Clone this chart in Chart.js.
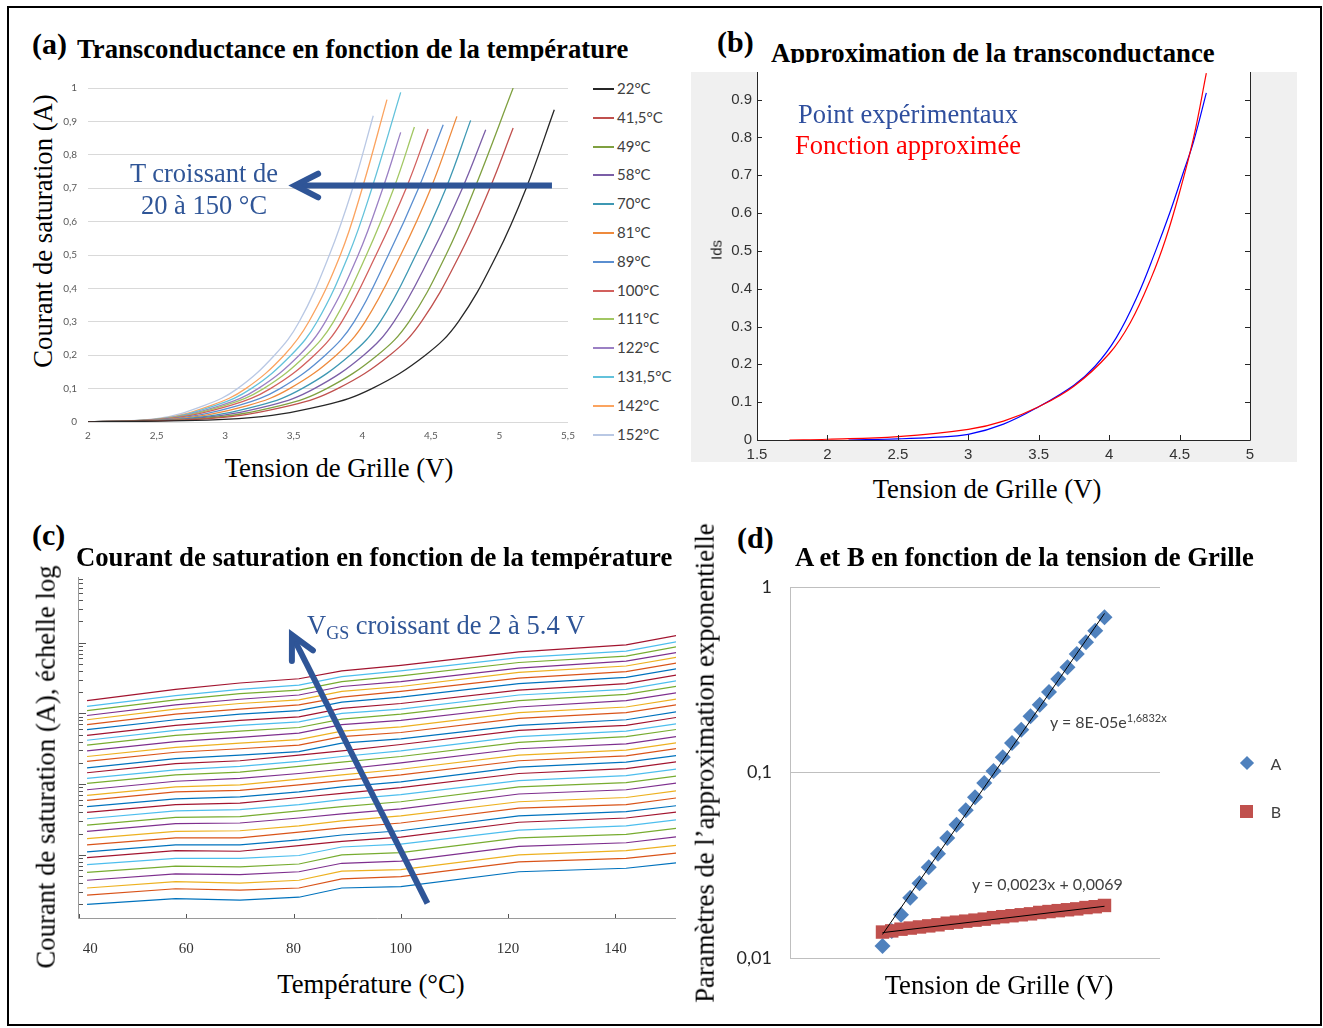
<!DOCTYPE html>
<html>
<head>
<meta charset="utf-8">
<script src="https://cdn.jsdelivr.net/npm/chart.js@4.4.1/dist/chart.umd.min.js"></script>
<style>
body { margin: 0; background: #fff; }
#fig { position: relative; width: 1323px; height: 1028px; overflow: hidden; font-family: "Liberation Serif", "Times New Roman", serif; }
.frame { position: absolute; left: 7px; top: 6px; width: 1315px; height: 1020px; border: 2px solid #000; box-sizing: border-box; }
canvas { position: absolute; }
.t { position: absolute; white-space: nowrap; line-height: 1; }
.c { transform: translate(-50%, -50%); }
.v { transform: translate(-50%, -50%) rotate(-90deg); }
.lab { font-weight: bold; font-size: 30px; color: #000; }
.ttl { font-weight: bold; font-size: 26.7px; color: #000; }
.clip { position: absolute; overflow: hidden; white-space: nowrap; line-height: 1; }
.ax { font-size: 26.7px; color: #000; }
.note { font-size: 26.5px; color: #2F5597; }
.cal { font-family: Lato, "Open Sans", sans-serif; color: #404040; }
</style>
</head>
<body>
<div id="fig">
  <div class="frame"></div>

  <canvas id="chartA" width="520" height="380" style="left:60px;top:70px"></canvas>
  <canvas id="chartB" width="606" height="390" style="left:691px;top:72px;background:#f0f0f0"></canvas>
  <canvas id="chartC" width="630" height="400" style="left:60px;top:560px"></canvas>
  <canvas id="chartD" width="590" height="420" style="left:730px;top:570px"></canvas>

  <!-- (a) -->
  <div class="t lab" style="left:32px;top:29px">(a)</div>
  <div class="clip ttl" style="left:77px;top:36px;height:25px">Transconductance en fonction de la température</div>
  <div class="t ax v" style="left:43px;top:231px">Courant de saturation (A)</div>
  <div class="t ax c" style="left:339px;top:468px">Tension de Grille (V)</div>
  <div class="t note c" style="left:204px;top:173px">T croissant de</div>
  <div class="t note c" style="left:204px;top:205px">20 à 150 °C</div>
  <div id="legA"></div>

  <!-- (b) -->
  <div class="t lab" style="left:717px;top:27px">(b)</div>
  <div class="clip ttl" style="left:771px;top:40px;height:23px">Approximation de la transconductance</div>
  <div class="t c" style="left:716px;top:250px;font-family:'Liberation Sans',Arial,sans-serif;font-size:15px;color:#262626;transform:translate(-50%,-50%) rotate(-90deg)">Ids</div>
  <div class="t c" style="left:908px;top:114px;font-size:26.5px;color:#2F4F9E">Point expérimentaux</div>
  <div class="t c" style="left:908px;top:145px;font-size:26.5px;color:#FF0000">Fonction approximée</div>
  <div class="t ax c" style="left:987px;top:489px">Tension de Grille (V)</div>

  <!-- (c) -->
  <div class="t lab" style="left:32px;top:520px">(c)</div>
  <div class="clip ttl" style="left:76px;top:544px;height:25px">Courant de saturation en fonction de la température</div>
  <div class="t ax v" style="left:46px;top:767px">Courant de saturation (A), échelle log</div>
  <div class="t ax c" style="left:371px;top:984px">Température (°C)</div>
  <div class="t note" style="left:307px;top:612px">V<span style="font-size:18px;position:relative;top:5px">GS</span> croissant de 2 à 5.4 V</div>

  <!-- (d) -->
  <div class="t lab" style="left:737px;top:523px">(d)</div>
  <div class="t ttl" style="left:795px;top:544px">A et B en fonction de la tension de Grille</div>
  <div class="t ax v" style="left:705px;top:763px">Paramètres de l’approximation exponentielle</div>
  <div class="t ax c" style="left:999px;top:985px">Tension de Grille (V)</div>
  <div class="t cal" style="left:1050px;top:714px;font-size:16px">y = 8E-05e<span style="font-size:11px;position:relative;top:-6px">1,6832x</span></div>
  <div class="t cal" style="left:972px;top:876px;font-size:16px">y = 0,0023x + 0,0069</div>
  <div class="t" style="left:1242px;top:758px;width:10px;height:10px;background:#4F81BD;transform:rotate(45deg)"></div>
  <div class="t cal c" style="left:1276px;top:764px;font-size:16px">A</div>
  <div class="t" style="left:1240px;top:805px;width:13px;height:13px;background:#C0504D"></div>
  <div class="t cal c" style="left:1276px;top:812px;font-size:16px">B</div>
</div>

<script>
// ---------- (a) Ids vs Vgs for each temperature ----------
const tempsA = ['22°C', '41,5°C', '49°C', '58°C', '70°C', '81°C', '89°C', '100°C', '111°C', '122°C', '131,5°C', '142°C', '152°C'];
const colorsA = ['#262626', '#C0504D', '#7FA040', '#7B5EA7', '#3E98B3', '#EE8A3C', '#5A8ED0', '#D2605D', '#A2C763', '#9B80C4', '#63C2DB', '#FBA460', '#B9C8E4'];
// gate voltage where each curve reaches the currents of idsA
const vgsA = [
  [2.0, 3.10, 3.72, 4.07, 4.46, 4.70, 4.98, 5.195, 5.40],
  [2.0, 2.88, 3.48, 3.82, 4.20, 4.43, 4.71, 4.93, 5.10],
  [2.0, 2.83, 3.41, 3.74, 4.11, 4.34, 4.61, 4.82, 5.10],
  [2.0, 2.77, 3.33, 3.65, 4.01, 4.23, 4.50, 4.73, 4.90],
  [2.0, 2.72, 3.25, 3.56, 3.91, 4.13, 4.39, 4.61, 4.79],
  [2.0, 2.66, 3.17, 3.47, 3.81, 4.02, 4.28, 4.50, 4.69],
  [2.0, 2.62, 3.10, 3.40, 3.73, 3.94, 4.19, 4.41, 4.59],
  [2.0, 2.58, 3.04, 3.33, 3.65, 3.85, 4.10, 4.32, 4.48],
  [2.0, 2.56, 3.00, 3.28, 3.59, 3.79, 4.03, 4.23, 4.38],
  [2.0, 2.55, 2.97, 3.24, 3.54, 3.73, 3.97, 4.15, 4.28],
  [2.0, 2.54, 2.93, 3.19, 3.48, 3.67, 3.90, 4.07, 4.28],
  [2.0, 2.53, 2.90, 3.15, 3.43, 3.61, 3.84, 4.00, 4.18],
  [2.0, 2.50, 2.85, 3.09, 3.36, 3.54, 3.76, 3.93, 4.08]
];
const idsA = [
  [0, 0.01, 0.05, 0.1, 0.2, 0.3, 0.5, 0.7, 0.935],
  [0, 0.01, 0.05, 0.1, 0.2, 0.3, 0.5, 0.7, 0.88],
  [0, 0.01, 0.05, 0.1, 0.2, 0.3, 0.5, 0.7, 1.0],
  [0, 0.01, 0.05, 0.1, 0.2, 0.3, 0.5, 0.7, 0.875],
  [0, 0.01, 0.05, 0.1, 0.2, 0.3, 0.5, 0.7, 0.903],
  [0, 0.01, 0.05, 0.1, 0.2, 0.3, 0.5, 0.7, 0.915],
  [0, 0.01, 0.05, 0.1, 0.2, 0.3, 0.5, 0.7, 0.89],
  [0, 0.01, 0.05, 0.1, 0.2, 0.3, 0.5, 0.7, 0.877],
  [0, 0.01, 0.05, 0.1, 0.2, 0.3, 0.5, 0.7, 0.883],
  [0, 0.01, 0.05, 0.1, 0.2, 0.3, 0.5, 0.7, 0.867],
  [0, 0.01, 0.05, 0.1, 0.2, 0.3, 0.5, 0.7, 0.987],
  [0, 0.01, 0.05, 0.1, 0.2, 0.3, 0.5, 0.7, 0.965],
  [0, 0.01, 0.05, 0.1, 0.2, 0.3, 0.5, 0.7, 0.917]
];

// ---------- (b) measured vs fitted ----------
const vgsExpB = [2.15, 2.5, 2.75, 3.0, 3.25, 3.5, 3.75, 3.9, 4.05, 4.2, 4.33, 4.43, 4.52, 4.6, 4.69];
const idsExpB = [0, 0.003, 0.007, 0.015, 0.042, 0.088, 0.145, 0.195, 0.27, 0.38, 0.5, 0.6, 0.7, 0.79, 0.918];
const vgsFitB = [1.73, 2.0, 2.5, 3.0, 3.25, 3.5, 3.75, 4.0, 4.15, 4.3, 4.4, 4.5, 4.6, 4.69];
const idsFitB = [0, 0.002, 0.009, 0.028, 0.05, 0.088, 0.142, 0.228, 0.31, 0.43, 0.53, 0.655, 0.8, 0.97];

// ---------- (c) log10(Ids) vs temperature, one row per Vgs ----------
const tempsC = [41.5, 58, 70, 81, 89, 100, 122, 142, 152];
const vgsC = [2.0, 2.1, 2.2, 2.3, 2.4, 2.5, 2.6, 2.7, 2.8, 2.9, 3.0, 3.1, 3.2, 3.3, 3.4, 3.5, 3.6, 3.7, 3.8, 3.9,
              4.0, 4.1, 4.2, 4.3, 4.4, 4.5, 4.6, 4.7, 4.8, 4.9, 5.0, 5.1, 5.2, 5.3, 5.4];
const logIdsC = [
  [-3.70, -3.62, -3.64, -3.60, -3.47, -3.45, -3.24, -3.19, -3.11],
  [-3.57, -3.48, -3.50, -3.47, -3.34, -3.31, -3.10, -3.05, -2.97],
  [-3.47, -3.38, -3.40, -3.36, -3.23, -3.21, -3.00, -2.94, -2.86],
  [-3.36, -3.27, -3.28, -3.24, -3.12, -3.09, -2.88, -2.83, -2.74],
  [-3.25, -3.16, -3.17, -3.13, -3.00, -2.97, -2.76, -2.71, -2.62],
  [-3.14, -3.05, -3.05, -3.01, -2.89, -2.85, -2.65, -2.59, -2.50],
  [-3.04, -2.94, -2.95, -2.87, -2.81, -2.75, -2.54, -2.48, -2.39],
  [-2.96, -2.86, -2.86, -2.79, -2.72, -2.66, -2.45, -2.39, -2.30],
  [-2.86, -2.76, -2.76, -2.68, -2.62, -2.55, -2.34, -2.29, -2.19],
  [-2.77, -2.67, -2.66, -2.59, -2.52, -2.45, -2.25, -2.19, -2.09],
  [-2.67, -2.56, -2.55, -2.48, -2.42, -2.35, -2.14, -2.08, -1.98],
  [-2.58, -2.47, -2.46, -2.38, -2.32, -2.25, -2.04, -1.98, -1.88],
  [-2.49, -2.38, -2.36, -2.29, -2.22, -2.15, -1.95, -1.88, -1.78],
  [-2.40, -2.29, -2.27, -2.19, -2.13, -2.05, -1.85, -1.78, -1.68],
  [-2.32, -2.21, -2.18, -2.11, -2.04, -1.97, -1.76, -1.69, -1.59],
  [-2.23, -2.11, -2.09, -2.01, -1.95, -1.87, -1.67, -1.60, -1.49],
  [-2.16, -2.04, -2.01, -1.93, -1.87, -1.79, -1.59, -1.52, -1.41],
  [-2.08, -1.96, -1.92, -1.85, -1.79, -1.70, -1.50, -1.43, -1.32],
  [-1.99, -1.87, -1.83, -1.75, -1.69, -1.61, -1.41, -1.33, -1.22],
  [-1.92, -1.80, -1.75, -1.68, -1.61, -1.53, -1.33, -1.25, -1.14],
  [-1.84, -1.71, -1.67, -1.59, -1.53, -1.44, -1.24, -1.17, -1.05],
  [-1.77, -1.64, -1.59, -1.54, -1.42, -1.36, -1.17, -1.09, -0.97],
  [-1.68, -1.55, -1.50, -1.45, -1.33, -1.27, -1.07, -0.99, -0.87],
  [-1.61, -1.48, -1.42, -1.37, -1.25, -1.19, -0.99, -0.91, -0.79],
  [-1.53, -1.40, -1.34, -1.28, -1.16, -1.10, -0.91, -0.82, -0.70],
  [-1.45, -1.31, -1.25, -1.20, -1.08, -1.01, -0.82, -0.73, -0.61],
  [-1.38, -1.24, -1.17, -1.12, -1.00, -0.94, -0.74, -0.66, -0.53],
  [-1.31, -1.17, -1.10, -1.05, -0.93, -0.86, -0.67, -0.58, -0.45],
  [-1.23, -1.09, -1.01, -0.96, -0.84, -0.77, -0.58, -0.49, -0.36],
  [-1.16, -1.01, -0.94, -0.88, -0.77, -0.69, -0.50, -0.41, -0.28],
  [-1.09, -0.94, -0.86, -0.81, -0.69, -0.62, -0.42, -0.33, -0.20],
  [-1.03, -0.88, -0.80, -0.74, -0.62, -0.55, -0.36, -0.26, -0.13],
  [-0.96, -0.81, -0.72, -0.67, -0.55, -0.47, -0.28, -0.19, -0.05],
  [-0.90, -0.75, -0.66, -0.60, -0.48, -0.40, -0.21, -0.12, 0.02],
  [-0.82, -0.66, -0.57, -0.51, -0.40, -0.32, -0.13, -0.03, 0.11]
];
const colorsC = ['#0072BD', '#D95319', '#EDB120', '#7E2F8E', '#77AC30', '#4DBEEE', '#A2142F'];

// ---------- (d) A and B parameters ----------
const vgsD = [3.0, 3.1, 3.2, 3.3, 3.4, 3.5, 3.6, 3.7, 3.8, 3.9, 4.0, 4.1, 4.2, 4.3, 4.4, 4.5, 4.6, 4.7, 4.8, 4.9, 5.0, 5.1, 5.2, 5.3, 5.4];
const paramA = [0.0116, 0.0140, 0.0171, 0.0211, 0.0253, 0.0308, 0.0365, 0.0443, 0.0523, 0.0625, 0.0735, 0.0878, 0.102,
                0.121, 0.144, 0.170, 0.201, 0.232, 0.272, 0.319, 0.369, 0.435, 0.503, 0.581, 0.686];
const paramB = [0.0138, 0.0140, 0.0143, 0.0145, 0.0147, 0.0149, 0.0151, 0.0154, 0.0156, 0.0158, 0.0160, 0.0162, 0.0165,
                0.0167, 0.0169, 0.0171, 0.0173, 0.0176, 0.0178, 0.0180, 0.0182, 0.0184, 0.0187, 0.0189, 0.0192];
const trendX = [3.0, 5.4];
const trendA = [0.0134, 0.72];
const trendB = [0.0137, 0.019];

const comma = v => String(+v.toFixed(2)).replace('.', ',');

// fixed axis size, and no extra label padding pushed into the layout
const fixSize = (w, h) => s => {
  if (w !== null) s.width = w;
  if (h !== null) s.height = h;
  s.paddingTop = 0; s.paddingBottom = 0; s.paddingLeft = 0; s.paddingRight = 0;
};

// thick arrow with an open head, placed in data coordinates
const arrowPlugin = {
  id: 'arrow',
  afterDatasetsDraw(chart, args, opts) {
    if (!opts.from) return;
    const sx = chart.scales.x, sy = chart.scales.y;
    const x0 = sx.getPixelForValue(opts.from[0]), y0 = sy.getPixelForValue(opts.from[1]);
    const x1 = sx.getPixelForValue(opts.to[0]), y1 = sy.getPixelForValue(opts.to[1]);
    const a = Math.atan2(y1 - y0, x1 - x0);
    const ctx = chart.ctx;
    ctx.save();
    ctx.strokeStyle = opts.color;
    ctx.lineWidth = opts.width;
    ctx.beginPath();
    ctx.moveTo(x0, y0);
    ctx.lineTo(x1 - Math.cos(a) * 2, y1 - Math.sin(a) * 2);
    ctx.stroke();
    ctx.lineCap = 'round';
    ctx.lineJoin = 'miter';
    ctx.beginPath();
    ctx.moveTo(x1 - opts.head * Math.cos(a - 0.47), y1 - opts.head * Math.sin(a - 0.47));
    ctx.lineTo(x1, y1);
    ctx.lineTo(x1 - opts.head * Math.cos(a + 0.47), y1 - opts.head * Math.sin(a + 0.47));
    ctx.stroke();
    ctx.restore();
  }
};

// MATLAB style box with inward ticks
const boxPlugin = {
  id: 'box',
  beforeDraw(chart) {
    const a = chart.chartArea;
    chart.ctx.fillStyle = '#fff';
    chart.ctx.fillRect(a.left, a.top, a.right - a.left, a.bottom - a.top);
  },
  afterDraw(chart) {
    const { ctx, chartArea: a, scales } = chart;
    ctx.save();
    ctx.strokeStyle = '#262626';
    ctx.lineWidth = 1;
    ctx.beginPath();
    ctx.moveTo(a.left + 0.5, a.top);
    ctx.lineTo(a.left + 0.5, a.bottom + 0.5);
    ctx.lineTo(a.right + 0.5, a.bottom + 0.5);
    ctx.lineTo(a.right + 0.5, a.top);
    scales.y.ticks.forEach(t => {
      const p = Math.round(scales.y.getPixelForValue(t.value)) + 0.5;
      ctx.moveTo(a.left, p); ctx.lineTo(a.left + 5, p);
      ctx.moveTo(a.right, p); ctx.lineTo(a.right - 5, p);
    });
    scales.x.ticks.forEach(t => {
      const p = Math.round(scales.x.getPixelForValue(t.value)) + 0.5;
      ctx.moveTo(p, a.bottom); ctx.lineTo(p, a.bottom - 5);
    });
    ctx.stroke();
    ctx.restore();
  }
};

// log axis with inner minor ticks, no labels
const logAxisPlugin = {
  id: 'logAxis',
  afterDraw(chart) {
    const { ctx, chartArea: a, scales: { x, y } } = chart;
    ctx.save();
    ctx.strokeStyle = '#9a9a9a';
    ctx.lineWidth = 1;
    ctx.beginPath();
    ctx.moveTo(a.left - 0.5, a.top);
    ctx.lineTo(a.left - 0.5, a.bottom + 0.5);
    ctx.lineTo(a.right, a.bottom + 0.5);
    ctx.stroke();
    ctx.strokeStyle = '#555';
    ctx.beginPath();
    for (let d = -4; d <= 0; d++) {
      for (let m = 1; m <= 9; m++) {
        const v = m * Math.pow(10, d);
        if (v < y.min || v > y.max) continue;
        const p = Math.round(y.getPixelForValue(v)) + 0.5;
        ctx.moveTo(a.left, p);
        ctx.lineTo(a.left + (m === 1 ? 7 : 4), p);
      }
    }
    x.ticks.forEach(t => {
      const p = Math.round(x.getPixelForValue(t.value)) + 0.5;
      ctx.moveTo(p, a.bottom);
      ctx.lineTo(p, a.bottom - 4);
    });
    ctx.stroke();
    ctx.restore();
  }
};

// ---- chart (a)
new Chart(document.getElementById('chartA'), {
  type: 'line',
  data: {
    datasets: tempsA.map((t, k) => ({
      label: t,
      data: vgsA[k].map((v, j) => ({ x: v, y: idsA[k][j] })),
      borderColor: colorsA[k],
      borderWidth: 1.3,
      pointRadius: 0,
      tension: 0.4,
      fill: false
    }))
  },
  options: {
    responsive: false,
    animation: false,
    layout: { padding: { top: 18, right: 12, left: 0, bottom: 0 } },
    plugins: {
      legend: { display: false },
      tooltip: { enabled: false },
      arrow: { from: [5.383, 0.708], to: [3.509, 0.708], color: '#2F5597', width: 6, head: 26 }
    },
    scales: {
      x: {
        type: 'linear', min: 2, max: 5.5,
        afterFit: fixSize(null, 28),
        grid: { display: false, drawTicks: false },
        border: { display: false },
        ticks: { stepSize: 0.5, padding: 8, maxRotation: 0, color: '#595959', font: { family: 'Lato', size: 10 }, callback: v => comma(v) }
      },
      y: {
        min: 0, max: 1,
        afterFit: fixSize(28, null),
        grid: { color: '#d9d9d9', drawTicks: false },
        border: { display: false },
        ticks: { stepSize: 0.1, padding: 11, color: '#595959', font: { family: 'Lato', size: 10 }, callback: v => comma(v) }
      }
    }
  },
  plugins: [arrowPlugin]
});

// legend (a)
const legA = document.getElementById('legA');
tempsA.forEach((t, k) => {
  const y = 89 + k * 28.8;
  legA.insertAdjacentHTML('beforeend',
    `<div class="t" style="left:593px;top:${y - 1}px;width:21px;height:2px;background:${colorsA[k]}"></div>` +
    `<div class="t cal" style="left:617px;top:${y - 8}px;font-size:15px">${t}</div>`);
});

// ---- chart (b)
new Chart(document.getElementById('chartB'), {
  type: 'line',
  data: {
    datasets: [
      { label: 'Fonction approximée', data: vgsFitB.map((v, j) => ({ x: v, y: idsFitB[j] })), borderColor: '#FF0000', borderWidth: 1.2, pointRadius: 0, tension: 0.4 },
      { label: 'Point expérimentaux', data: vgsExpB.map((v, j) => ({ x: v, y: idsExpB[j] })), borderColor: '#0000FF', borderWidth: 1.2, pointRadius: 0, tension: 0.4 }
    ]
  },
  options: {
    responsive: false,
    animation: false,
    layout: { padding: { top: 0, right: 47, left: 0, bottom: 0 } },
    plugins: { legend: { display: false }, tooltip: { enabled: false } },
    scales: {
      x: {
        type: 'linear', min: 1.5, max: 5,
        afterFit: fixSize(null, 22),
        grid: { display: false, drawTicks: false },
        border: { display: false },
        ticks: { stepSize: 0.5, padding: 6, maxRotation: 0, color: '#333', font: { family: 'Liberation Sans', size: 15 }, callback: v => String(+v.toFixed(1)) }
      },
      y: {
        min: 0, max: 0.973,
        afterFit: fixSize(66, null),
        grid: { display: false, drawTicks: false },
        border: { display: false },
        ticks: { stepSize: 0.1, includeBounds: false, padding: 5, color: '#333', font: { family: 'Liberation Sans', size: 15 }, callback: v => String(+v.toFixed(1)) }
      }
    }
  },
  plugins: [boxPlugin]
});

// ---- chart (c)
new Chart(document.getElementById('chartC'), {
  type: 'line',
  data: {
    datasets: vgsC.map((g, i) => ({
      label: g + ' V',
      data: tempsC.map((t, j) => ({ x: t, y: Math.pow(10, logIdsC[i][j]) })),
      borderColor: colorsC[i % 7],
      borderWidth: 1.2,
      pointRadius: 0,
      tension: 0
    }))
  },
  options: {
    responsive: false,
    animation: false,
    layout: { padding: { top: 17, right: 14, left: 0, bottom: 0 } },
    plugins: {
      legend: { display: false },
      tooltip: { enabled: false },
      arrow: { from: [104.96, Math.pow(10, -3.686)], to: [79.7, Math.pow(10, 0.109)], color: '#2F5597', width: 6, head: 26 }
    },
    scales: {
      x: {
        type: 'linear', min: 40, max: 151.3,
        afterFit: fixSize(null, 42),
        grid: { display: false, drawTicks: false },
        border: { display: false },
        ticks: {
          stepSize: 20, includeBounds: false, padding: 22, maxRotation: 0, color: '#333',
          font: { family: 'Liberation Serif', size: 15 },
          // the first label sits a little inside the corner
          callback: v => (v === 40 ? '\u2007\u2007\u200740' : String(v))
        }
      },
      y: {
        type: 'logarithmic', min: Math.pow(10, -3.894), max: Math.pow(10, 0.929),
        afterFit: fixSize(19, null),
        grid: { display: false, drawTicks: false },
        border: { display: false },
        ticks: { display: false }
      }
    }
  },
  plugins: [arrowPlugin, logAxisPlugin]
});

// ---- chart (d)
new Chart(document.getElementById('chartD'), {
  type: 'line',
  data: {
    datasets: [
      { label: 'Exp. (A)', data: trendX.map((v, j) => ({ x: v, y: trendA[j] })), borderColor: '#000', borderWidth: 1, pointRadius: 0 },
      { label: 'Linéaire (B)', data: trendX.map((v, j) => ({ x: v, y: trendB[j] })), borderColor: '#000', borderWidth: 1, pointRadius: 0 },
      { label: 'B', data: vgsD.map((v, j) => ({ x: v, y: paramB[j] })), showLine: false, pointStyle: 'rect', pointRadius: 9.5, borderWidth: 0, backgroundColor: '#C0504D', borderColor: '#C0504D' },
      { label: 'A', data: vgsD.map((v, j) => ({ x: v, y: paramA[j] })), showLine: false, pointStyle: 'rectRot', pointRadius: 8, borderWidth: 0, backgroundColor: '#4F81BD', borderColor: '#4F81BD' }
    ]
  },
  options: {
    responsive: false,
    animation: false,
    layout: { padding: { top: 17, right: 160, left: 0, bottom: 32 } },
    plugins: { legend: { display: false }, tooltip: { enabled: false } },
    scales: {
      x: {
        type: 'linear', position: 'top', min: 2, max: 6,
        afterFit: fixSize(null, 0),
        grid: { display: false, drawTicks: false },
        border: { display: false },
        ticks: { stepSize: 1, padding: -37, maxRotation: 0, color: '#262626', font: { family: 'Lato', size: 17 } }
      },
      y: {
        type: 'logarithmic', min: 0.01, max: 1,
        afterFit: fixSize(60, null),
        afterBuildTicks: s => { s.ticks = [{ value: 0.01 }, { value: 0.1 }, { value: 1 }]; },
        grid: { color: '#bfbfbf', drawTicks: false },
        border: { display: true, color: '#bfbfbf' },
        ticks: { padding: 18, color: '#262626', font: { family: 'Lato', size: 18 }, callback: v => comma(v) }
      }
    }
  }
});
</script>
</body>
</html>
